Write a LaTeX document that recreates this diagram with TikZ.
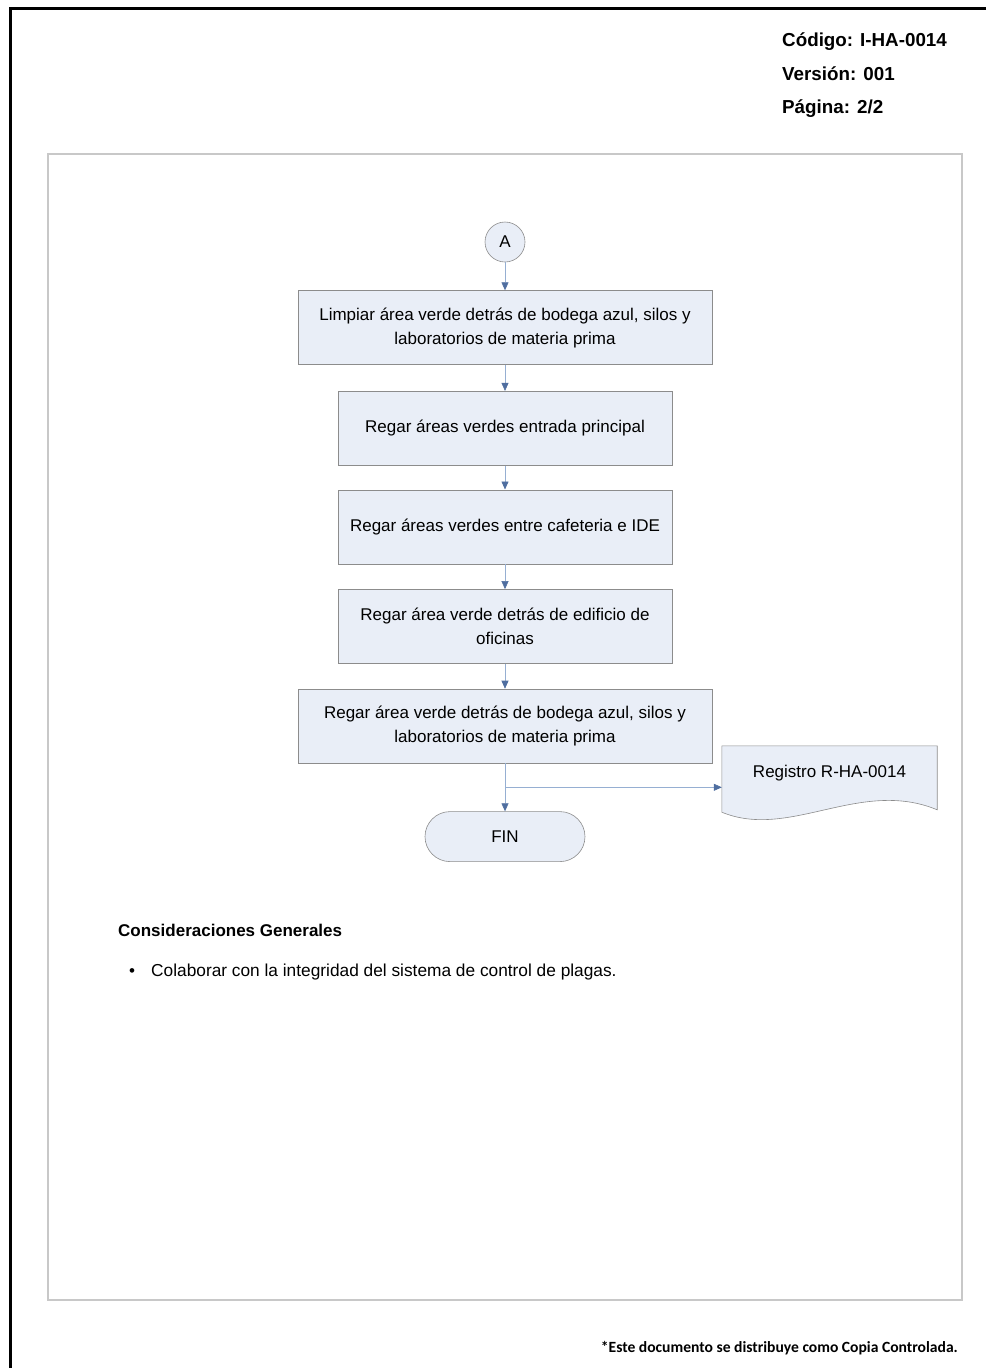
\documentclass[tikz,border=0pt]{standalone}
\usepackage{fontspec}
\setmainfont{Liberation Sans}
\newfontfamily\footfont{Carlito}
\usepackage{tikz}
\usetikzlibrary{arrows.meta,calc,positioning,backgrounds}
\definecolor{boxfill}{RGB}{233,238,247}
\definecolor{boxline}{RGB}{140,140,140}
\definecolor{flowline}{RGB}{150,175,210}
\definecolor{tipblue}{RGB}{79,110,160}
\definecolor{framegray}{RGB}{200,200,200}
\tikzset{
	txt/.style={inner sep=0pt, font=\fontsize{17}{24}\selectfont},
	hdr/.style={inner sep=0pt, anchor=base west, font=\fontsize{18.8}{22}\selectfont\bfseries},
	proc/.style={draw=boxline, fill=boxfill, semithick, minimum width=334, minimum height=74,
		align=center, font=\fontsize{17}{24}\selectfont},
	wide proc/.style={proc, minimum width=414},
	conn/.style={circle, draw=boxline, fill=boxfill, semithick, minimum size=40, inner sep=0pt,
		font=\fontsize{17}{20}\selectfont},
	term/.style={draw=boxline, fill=boxfill, semithick, rounded corners=25pt, minimum width=160,
		minimum height=50, font=\fontsize{17}{20}\selectfont},
	docnode/.style={minimum width=215, minimum height=54, inner sep=0pt, font=\fontsize{17}{20}\selectfont},
	docline/.style={draw=boxline, fill=boxfill, semithick},
	flow/.style={draw=flowline, semithick, -{Triangle[length=8pt,width=7pt,color=tipblue]}}
}

\begin{document}
\begin{tikzpicture}[x=1pt, y=-1pt]
	\useasboundingbox (0,0) rectangle (986,1368);
	% page frames
	\draw[line width=3pt] (986,8) -- (10,8) -- (10,1368);
	\draw[framegray, line width=2pt] (48,154) rectangle (962,1300);
	% header
	\node[hdr] (cod) at (782,46) {Código: I-HA-0014};
	\node[hdr] (ver) at (782,80) {Versión: 001};
	\node[hdr] (pag) at (782,113) {Página: 2/2};
	% flow
	\node[conn] (A) at (505,242) {A};
	\node[wide proc, below=28pt of A] (s1) {Limpiar área verde detrás de bodega azul, silos y\\laboratorios de materia prima};
	\node[proc, below=26pt of s1] (s2) {Regar áreas verdes entrada principal};
	\node[proc, below=24pt of s2] (s3) {Regar áreas verdes entre cafeteria e IDE};
	\node[proc, below=25pt of s3] (s4) {Regar área verde detrás de edificio de\\oficinas};
	\node[wide proc, below=25pt of s4] (s5) {Regar área verde detrás de bodega azul, silos y\\laboratorios de materia prima};
	\node[term, below=48pt of s5] (fin) {FIN};
	\node[docnode] (reg) at (829.5,773) {Registro R-HA-0014};
	\begin{scope}[on background layer]
		\draw[docline] (reg.north west) -- (reg.north east) -- ++(0,64)
			.. controls +(-77,-32) and +(68,28) .. ($(reg.south west)+(0,12)$) -- cycle;
	\end{scope}
	\coordinate (split) at ($(s5.south)!.5!(fin.north)$);
	\draw[flow] (A) -- (s1);
	\draw[flow] (s1) -- (s2);
	\draw[flow] (s2) -- (s3);
	\draw[flow] (s3) -- (s4);
	\draw[flow] (s4) -- (s5);
	\draw[flow] (s5) -- (fin);
	\draw[flow] (split) -- (split -| reg.west);
	% notes
	\node[txt, anchor=base west, font=\fontsize{17}{24}\selectfont\bfseries] (cons) at (118,936) {Consideraciones Generales};
	\node[txt, anchor=base west] (bul) at (129,976) {•};
	\node[txt, anchor=base west, font=\fontsize{17.3}{24}\selectfont] (item) at (151,976) {Colaborar con la integridad del sistema de control de plagas.};
	\node[inner sep=0pt, anchor=base east, font=\footfont\bfseries\fontsize{15.6}{17}\selectfont] (pie) at (958,1352)
		{*Este documento se distribuye como Copia Controlada.};
\end{tikzpicture}
\end{document}
